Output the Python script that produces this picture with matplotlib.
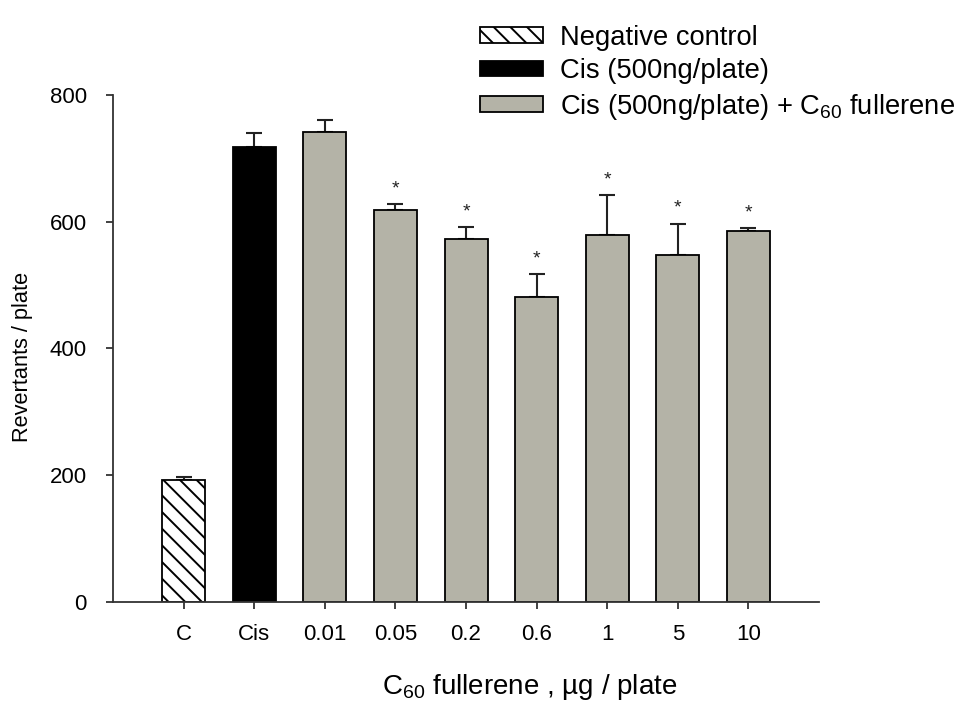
import numpy as np
import matplotlib
matplotlib.use('Agg')
from matplotlib import pyplot as plt

plt.rcParams['font.family'] = ['Liberation Sans', 'DejaVu Sans']
plt.rcParams['mathtext.fontset'] = 'custom'
plt.rcParams['mathtext.rm'] = 'Liberation Sans'
plt.rcParams['mathtext.it'] = 'Liberation Sans:italic'
plt.rcParams['hatch.linewidth'] = 1.4

# data
groups = ['C', 'Cis', '0.01', '0.05', '0.2', '0.6', '1', '5', '10']
means = [193, 718, 742, 618, 573, 481, 579, 548, 585]
errors = [4, 22, 19, 10, 19, 36, 63, 49, 5]
signif = [False, False, False, True, True, True, True, True, True]
kinds = ['neg', 'cis', 'c60', 'c60', 'c60', 'c60', 'c60', 'c60', 'c60']

gray = '#b4b3a7'
face = {'neg': 'white', 'cis': 'black', 'c60': gray}
hatch = {'neg': '\\\\', 'cis': None, 'c60': None}
labels = {'neg': 'Negative control',
          'cis': 'Cis (500ng/plate)',
          'c60': r'Cis (500ng/plate) + C$_{60}$ fullerene'}

fig = plt.figure(figsize=(9.76, 7.09), dpi=100)
ax = fig.add_axes([0.1158, 0.151, 0.7234, 0.715])

x = np.arange(len(groups))
handles = {}
for i in range(len(groups)):
    k = kinds[i]
    b = ax.bar(x[i], means[i], width=0.61, color=face[k], edgecolor='black',
               linewidth=1.3, hatch=hatch[k], zorder=2)
    handles.setdefault(k, b)
    ax.errorbar(x[i], means[i], yerr=[[0], [errors[i]]], fmt='none',
                ecolor='#222222', elinewidth=1.5, capsize=5.5, capthick=1.5,
                zorder=1)
    if signif[i]:
        ax.text(x[i], means[i] + errors[i] + 24, '*', ha='center', va='center',
                fontsize=14, color='#222222')

ax.set_xlim(-1, 9)
ax.set_ylim(0, 800)
ax.set_yticks([0, 200, 400, 600, 800])
ax.set_xticks(x)
ax.set_xticklabels(groups)

for s in ['top', 'right']:
    ax.spines[s].set_visible(False)
for s in ['left', 'bottom']:
    ax.spines[s].set_color('#333333')
    ax.spines[s].set_linewidth(1.3)
ax.tick_params(axis='x', direction='out', length=5, width=1.3, color='#333333',
               labelsize=16, pad=11)
ax.tick_params(axis='y', direction='out', length=5, width=1.3, color='#333333',
               labelsize=16, pad=14)

ax.set_ylabel('Revertants / plate', fontsize=15.7)
ax.yaxis.set_label_coords(-0.113, 0.483)
ax.set_xlabel(r'C$_{60}$ fullerene , µg / plate', fontsize=20)
ax.xaxis.set_label_coords(0.59, -0.139)

fig.legend([handles['neg'], handles['cis'], handles['c60']],
           [labels['neg'], labels['cis'], labels['c60']],
           loc='upper left', bbox_to_anchor=(0.492, 0.965), frameon=False,
           fontsize=19.7, handlelength=2.3, handleheight=0.51,
           handletextpad=0.62, labelspacing=0.27, borderpad=0, borderaxespad=0)

fig.savefig('out.png', dpi=100)
